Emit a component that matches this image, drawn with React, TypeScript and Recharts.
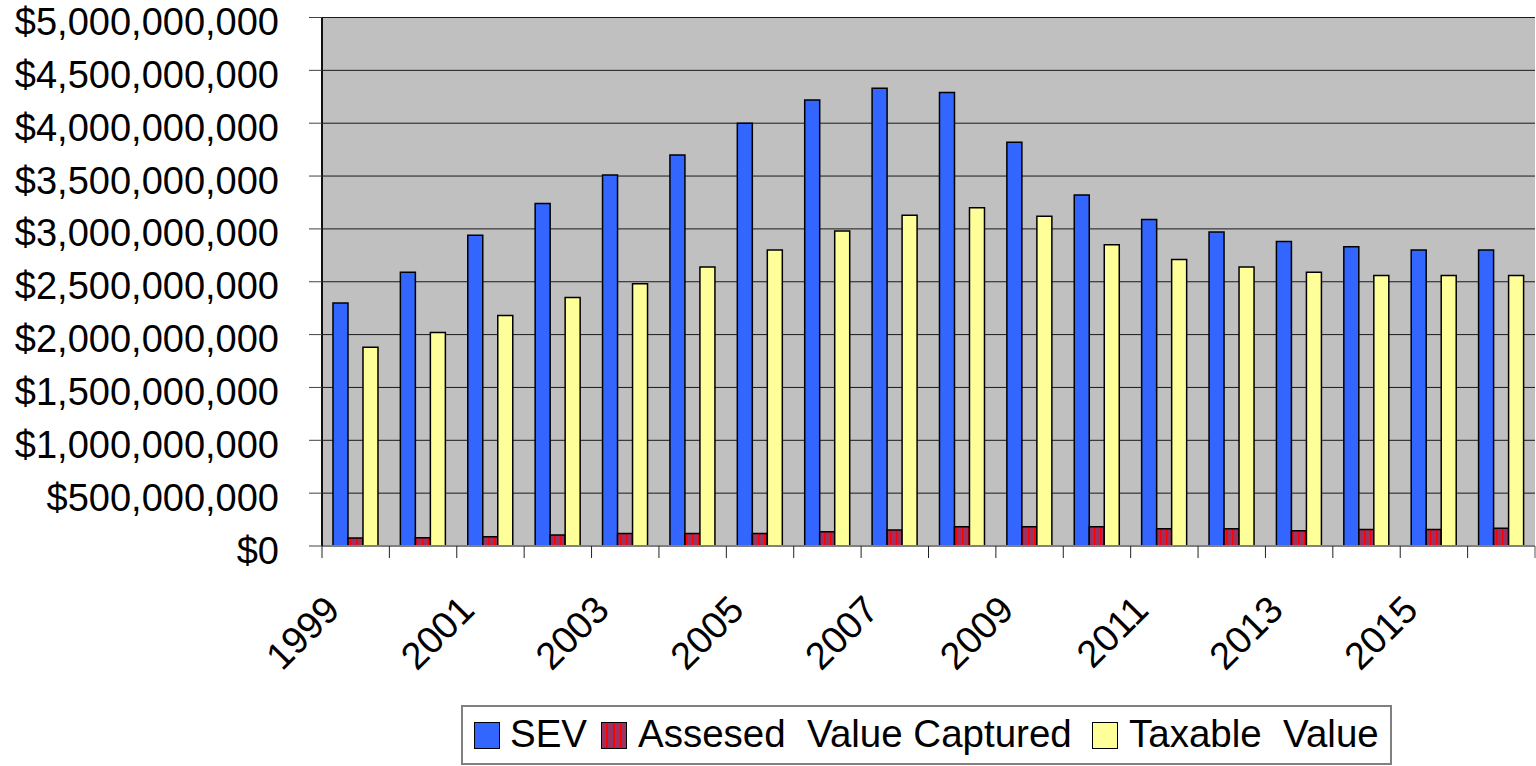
import { BarChart, Bar, XAxis, YAxis, CartesianGrid } from 'recharts';

const years = [
  '1999', '2000', '2001', '2002', '2003', '2004', '2005', '2006', '2007',
  '2008', '2009', '2010', '2011', '2012', '2013', '2014', '2015', '2016',
];

const sev = [
  2300000000, 2590000000, 2940000000, 3240000000, 3510000000, 3700000000,
  4000000000, 4220000000, 4330000000, 4290000000, 3820000000, 3320000000,
  3090000000, 2970000000, 2880000000, 2830000000, 2800000000, 2800000000,
];

const captured = [
  76000000, 78000000, 88000000, 104000000, 119000000, 119000000,
  119000000, 135000000, 151000000, 183000000, 183000000, 183000000,
  164000000, 164000000, 145000000, 155000000, 155000000, 168000000,
];

const taxable = [
  1880000000, 2020000000, 2180000000, 2350000000, 2480000000, 2640000000,
  2800000000, 2980000000, 3130000000, 3200000000, 3120000000, 2850000000,
  2710000000, 2640000000, 2590000000, 2560000000, 2560000000, 2560000000,
];

const yTicks = [
  0, 500000000, 1000000000, 1500000000, 2000000000, 2500000000,
  3000000000, 3500000000, 4000000000, 4500000000, 5000000000,
];

const data = years.map((year, i) => ({
  year,
  sev: sev[i],
  captured: captured[i],
  taxable: taxable[i],
}));

const FONT = '"Liberation Sans", Arial, sans-serif';
const FS = 38;

const fmt = (v: number) => '$' + v.toLocaleString('en-US');

const YTick = ({ x, y, payload }: any) => (
  <text x={x} y={y} dy={17.5} textAnchor="end" fontSize={FS} fontFamily={FONT} fill="#000">
    {fmt(payload.value)}
  </text>
);

const XTick = ({ x, y, payload, index }: any) => {
  const half = payload.offset || 33.7;
  return (
    <g>
      <line x1={x - half} x2={x - half} y1={y - 12} y2={y} stroke="#222" />
      {index === years.length - 1 && (
        <line x1={x + half} x2={x + half} y1={y - 12} y2={y} stroke="#555" />
      )}
      {index % 2 === 0 && (
        <text
          transform={`translate(${x - 14},${y + 54}) rotate(-45)`}
          textAnchor="end"
          fontSize={FS}
          fontFamily={FONT}
          fill="#000"
        >
          {payload.value}
        </text>
      )}
    </g>
  );
};

const legendItems = [
  { label: 'SEV', box: 474, text: 510, bg: '#3366FF' },
  {
    label: 'Assesed  Value Captured',
    box: 601,
    text: 638,
    bg: 'repeating-linear-gradient(90deg, #993366 0px, #993366 4px, #FF0000 4px, #FF0000 6px, #993366 6px, #993366 7px)',
  },
  { label: 'Taxable  Value', box: 1092, text: 1129, bg: '#FFFF99' },
];

export default function App() {
  return (
    <div style={{ position: 'absolute', left: 0, top: 0, width: 1536, height: 766, background: '#fff' }}>
      <BarChart
        width={1536}
        height={766}
        data={data}
        margin={{ top: 17.5, right: 1, bottom: 0, left: 0 }}
        barCategoryGap="16.3%"
        barGap={0}
      >
        <defs>
          <pattern id="redStripe" width="6" height="10" patternUnits="userSpaceOnUse">
            <rect width="6" height="10" fill="#993366" />
            <rect x="2" width="1.6" height="10" fill="#FF0000" />
          </pattern>
        </defs>
        <CartesianGrid vertical={false} stroke="#1a1a1a" fill="#C0C0C0" />
        <XAxis
          dataKey="year"
          height={220}
          interval={0}
          tickLine={false}
          tickSize={12}
          tickMargin={0}
          axisLine={{ stroke: '#808080', strokeWidth: 2 }}
          tick={<XTick />}
        />
        <YAxis
          width={322}
          domain={[0, 5000000000]}
          ticks={yTicks}
          interval={0}
          tickSize={13}
          tickMargin={30}
          axisLine={{ stroke: '#111', strokeWidth: 2 }}
          tickLine={{ stroke: '#444' }}
          tick={<YTick />}
        />
        <Bar dataKey="sev" fill="#3366FF" stroke="#000" strokeWidth={1.5} isAnimationActive={false} />
        <Bar dataKey="captured" fill="url(#redStripe)" stroke="#000" strokeWidth={1.5} isAnimationActive={false} />
        <Bar dataKey="taxable" fill="#FFFF99" stroke="#000" strokeWidth={1.5} isAnimationActive={false} />
      </BarChart>
      <div
        style={{
          position: 'absolute',
          left: 461,
          top: 705,
          width: 931,
          height: 60,
          border: '2px solid #808080',
          boxSizing: 'border-box',
          fontFamily: FONT,
          fontSize: 38.5,
        }}
      >
        {legendItems.map((it) => (
          <div key={it.label}>
            <div
              style={{
                position: 'absolute',
                left: it.box - 461 - 2,
                top: 15,
                width: 24,
                height: 25,
                background: it.bg,
                border: '1.5px solid #000',
              }}
            />
            <div
              style={{
                position: 'absolute',
                left: it.text - 461 - 2,
                top: 4,
                lineHeight: '46px',
                whiteSpace: 'pre',
              }}
            >
              {it.label}
            </div>
          </div>
        ))}
      </div>
    </div>
  );
}
